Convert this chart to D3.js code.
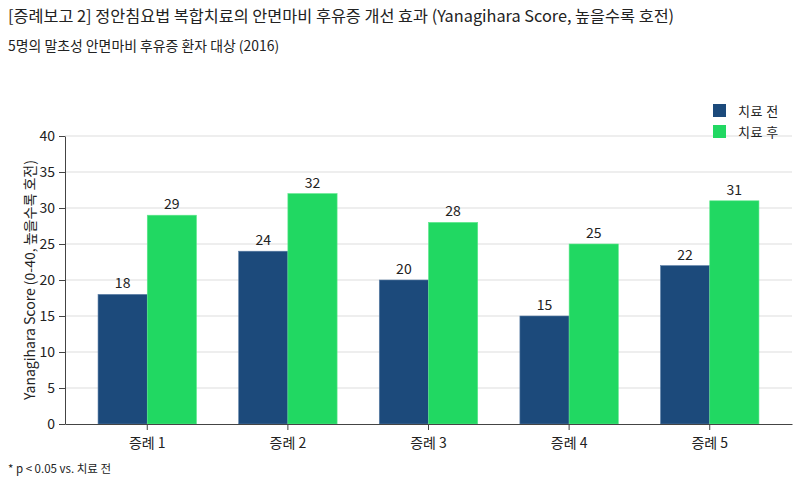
<!DOCTYPE html>
<html>
<head>
<meta charset="utf-8">
<script src="https://cdn.jsdelivr.net/npm/d3@7"></script>
<style>
  body { margin: 0; background: #fff; }
  svg text { font-family: "Noto Sans CJK KR", "Noto Sans", sans-serif; fill: #222; }
  .grid line { stroke: #dddddd; }
  .axis path, .axis line { stroke: #444; }
</style>
</head>
<body>
<div id="chart"></div>
<script>
const width = 800;
const height = 485;

// data
const cases = ["증례 1", "증례 2", "증례 3", "증례 4", "증례 5"];
const seriesNames = ["치료 전", "치료 후"];
const before = [18, 24, 20, 15, 22];
const after = [29, 32, 28, 25, 31];
const yTicks = [0, 5, 10, 15, 20, 25, 30, 35, 40];
const colors = ["#1c4a7b", "#21d862"];

const margin = {top: 136, right: 8, bottom: 61, left: 65};

const svg = d3.select("#chart").append("svg")
    .attr("width", width)
    .attr("height", height);

// titles
svg.append("text")
    .attr("x", 8).attr("y", 22)
    .style("font-size", "16.3px")
    .text("[증례보고 2] 정안침요법 복합치료의 안면마비 후유증 개선 효과 (Yanagihara Score, 높을수록 호전)");

svg.append("text")
    .attr("x", 8).attr("y", 51)
    .style("font-size", "13.9px")
    .text("5명의 말초성 안면마비 후유증 환자 대상 (2016)");

const x = d3.scaleBand()
    .domain(cases)
    .range([margin.left, width - margin.right])
    .paddingInner(0.3)
    .paddingOuter(0.235);

const xSub = d3.scaleBand()
    .domain(seriesNames)
    .range([0, x.bandwidth()]);

const y = d3.scaleLinear()
    .domain([0, 40])
    .range([height - margin.bottom, margin.top]);

// gridlines
svg.append("g")
    .attr("class", "grid")
    .selectAll("line")
    .data(yTicks.filter(d => d > 0))
    .enter().append("line")
    .attr("x1", margin.left)
    .attr("x2", width - margin.right)
    .attr("y1", d => y(d))
    .attr("y2", d => y(d));

// bars
const rows = cases.map((c, i) => ({case: c, values: [before[i], after[i]]}));

const groups = svg.selectAll(".case")
    .data(rows)
    .enter().append("g")
    .attr("class", "case")
    .attr("transform", d => `translate(${x(d.case)},0)`);

groups.selectAll("rect")
    .data(d => d.values.map((v, j) => ({name: seriesNames[j], value: v, idx: j})))
    .enter().append("rect")
    .attr("x", d => xSub(d.name))
    .attr("y", d => y(d.value))
    .attr("width", xSub.bandwidth())
    .attr("height", d => y(0) - y(d.value))
    .attr("fill", d => colors[d.idx])
    .attr("stroke", d => d.idx === 0 ? "#5a7ea6" : "#5ee88c")
    .attr("stroke-width", 0.6);

groups.selectAll(".val")
    .data(d => d.values.map((v, j) => ({name: seriesNames[j], value: v})))
    .enter().append("text")
    .attr("class", "val")
    .attr("x", d => xSub(d.name) + xSub.bandwidth() / 2)
    .attr("y", d => y(d.value) - 6)
    .attr("text-anchor", "middle")
    .style("font-size", "14px")
    .text(d => d.value);

// axes
const yAxis = svg.append("g")
    .attr("class", "axis")
    .attr("transform", `translate(${margin.left},0)`)
    .call(d3.axisLeft(y).tickValues(yTicks).tickSizeOuter(0));
yAxis.selectAll("text").style("font-size", "14px").attr("dx", "-1");

const xAxis = svg.append("g")
    .attr("class", "axis")
    .attr("transform", `translate(0,${height - margin.bottom})`)
    .call(d3.axisBottom(x).tickSizeOuter(0));
xAxis.selectAll("text").style("font-size", "14px").attr("dy", "1.1em");

svg.append("text")
    .attr("transform", `translate(35,${(margin.top + height - margin.bottom) / 2}) rotate(-90)`)
    .attr("text-anchor", "middle")
    .style("font-size", "14px")
    .text("Yanagihara Score (0-40, 높을수록 호전)");

// legend
const legend = svg.append("g").attr("transform", "translate(713,104)");
seriesNames.forEach((name, i) => {
    legend.append("rect")
        .attr("x", 0).attr("y", i * 21)
        .attr("width", 13).attr("height", 13)
        .attr("fill", colors[i]);
    legend.append("text")
        .attr("x", 25).attr("y", i * 21 + 11.5)
        .style("font-size", "13px")
        .style("letter-spacing", "0.5px")
        .text(name);
});

// footnote
svg.append("text")
    .attr("x", 8).attr("y", 473)
    .style("font-size", "11.5px")
    .text("* p < 0.05 vs. 치료 전");
</script>
</body>
</html>
